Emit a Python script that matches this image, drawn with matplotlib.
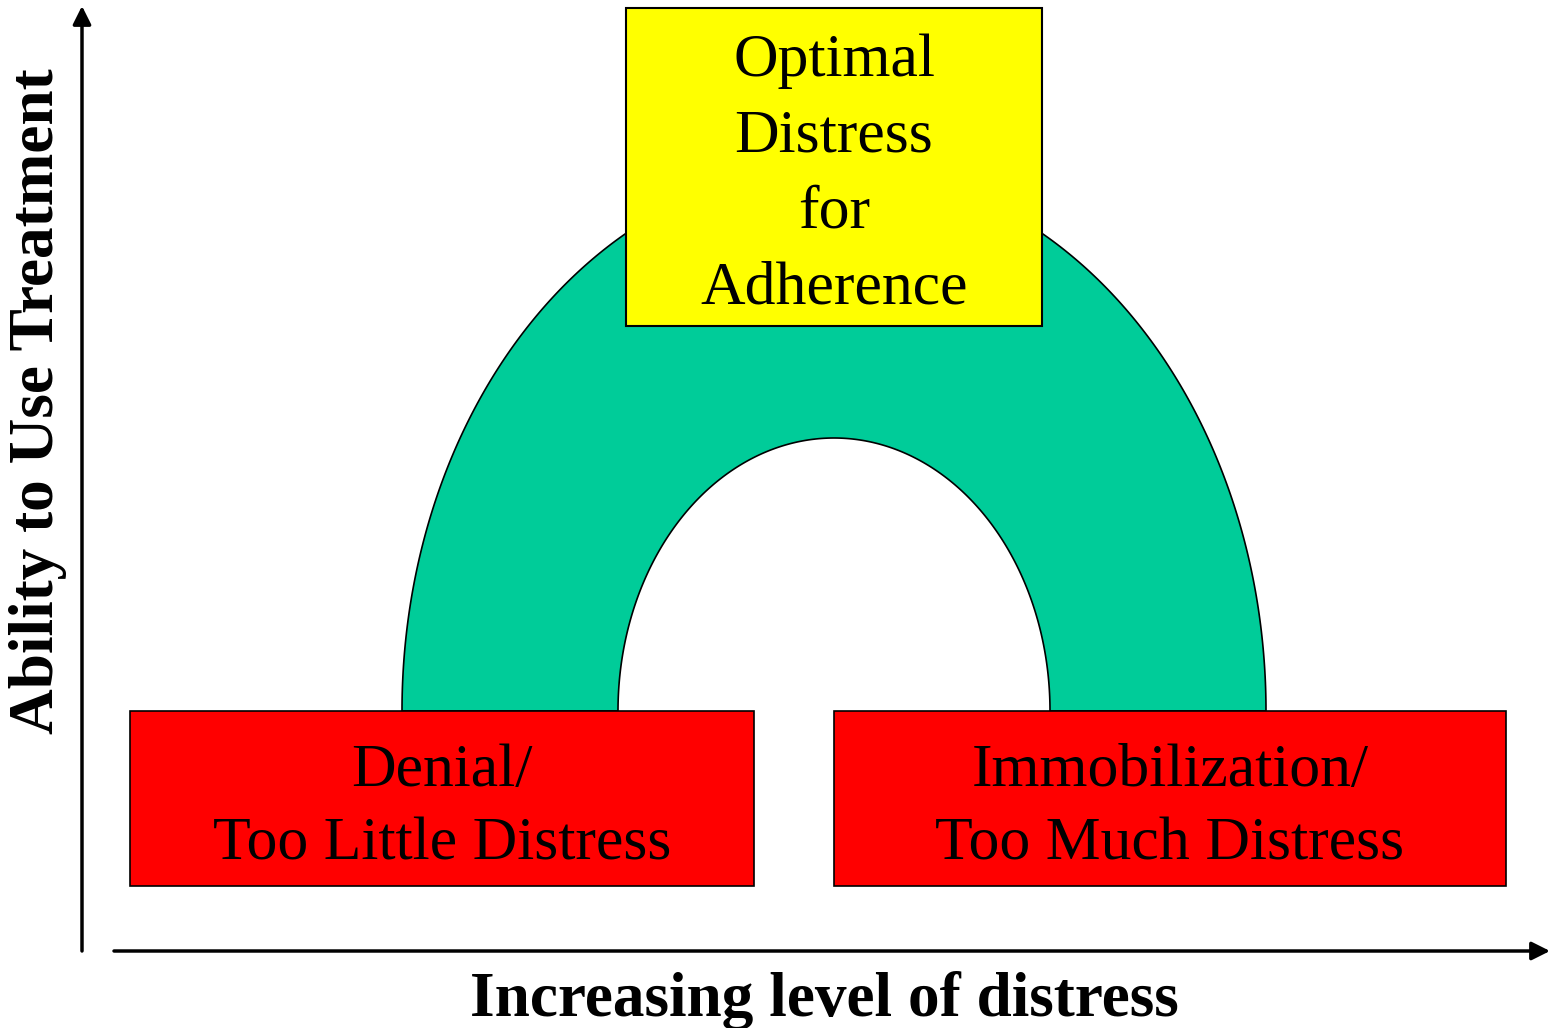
import numpy as np
import matplotlib
matplotlib.use("Agg")
import matplotlib.pyplot as plt
from matplotlib.patches import Rectangle, Polygon

plt.rcParams['font.family'] = ['Liberation Serif', 'DejaVu Serif']

x_label = "Increasing level of distress"
y_label = "Ability to Use Treatment"
top_text = "Optimal\nDistress\nfor\nAdherence"
left_text = "Denial/\nToo Little Distress"
right_text = "Immobilization/\nToo Much Distress"

W, H = 1550, 1028
fig = plt.figure(figsize=(W / 100, H / 100), dpi=100)
ax = fig.add_axes([0, 0, 1, 1])
ax.set_xlim(0, W)
ax.set_ylim(H, 0)
ax.axis('off')

# arch (outer half ellipse minus inner half ellipse)
cx, base = 834, 711
t = np.linspace(0, np.pi, 300)
outer_x = cx - 432 * np.cos(t)
outer_y = base - 545 * np.sin(t)
inner_x = cx + 216 * np.cos(t)
inner_y = base - 273 * np.sin(t)
arch = Polygon(np.column_stack([np.r_[outer_x, inner_x], np.r_[outer_y, inner_y]]),
               closed=True, facecolor='#00CC99', edgecolor='black', lw=1.2, zorder=1)
ax.add_patch(arch)

# boxes
ax.add_patch(Rectangle((626, 8), 416, 318, facecolor='#FFFF00', edgecolor='black', lw=1.5, zorder=2))
ax.add_patch(Rectangle((130, 711), 624, 175, facecolor='#FF0000', edgecolor='black', lw=1.2, zorder=2))
ax.add_patch(Rectangle((834, 711), 672, 175, facecolor='#FF0000', edgecolor='black', lw=1.2, zorder=2))

fs = 44.5
ax.text(834, 175, top_text, ha='center', va='center', fontsize=fs, linespacing=1.48, zorder=3)
ax.text(442, 808, left_text, ha='center', va='center', fontsize=fs, linespacing=1.41, zorder=3)
ax.text(1170, 808, right_text, ha='center', va='center', fontsize=fs, linespacing=1.41, zorder=3)

# axes arrows
style = '-|>,head_length=1.1,head_width=0.55'
ax.annotate('', xy=(82, 6), xytext=(82, 951),
            arrowprops=dict(arrowstyle=style, color='black', lw=2.5, shrinkA=0, shrinkB=0))
ax.annotate('', xy=(1550, 951), xytext=(114, 951),
            arrowprops=dict(arrowstyle=style, color='black', lw=2.5, shrinkA=0, shrinkB=0))

ax.text(824, 1001, x_label, ha='center', va='center', fontsize=45.5, fontweight='bold')
ax.text(38, 401, y_label, ha='center', va='center', fontsize=45.5, fontweight='bold', rotation=90)

fig.savefig('out.png', dpi=100)
